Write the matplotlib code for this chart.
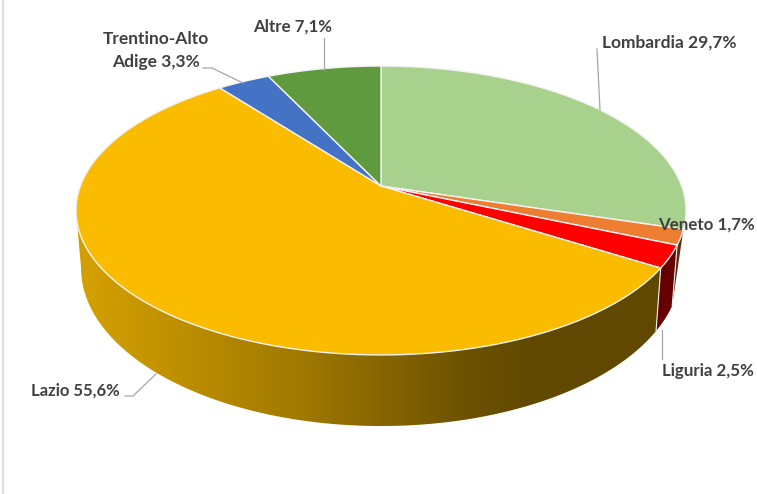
"""3D pie: regional shares, drawn as projected wedges on a pixel-sized axes."""
import numpy as np
import matplotlib
matplotlib.use("Agg")
import matplotlib.pyplot as plt
from matplotlib.patches import Polygon

regions = ["Lombardia", "Veneto", "Liguria", "Lazio", "Trentino-Alto Adige", "Altre"]
values = [29.7, 1.7, 2.5, 55.6, 3.3, 7.1]
top_colors = ["#A9D18E", "#ED7D31", "#FF0000", "#FBBC00", "#4472C4", "#5F9A3F"]

WIDTH, HEIGHT = 757, 494
CX = 381
TOP = dict(ax=300.6, by=140.3, y0=186)     # upper rim projection
BOT = dict(ax=295.6, by=153.5, y0=241.2)   # lower rim projection
P = 0.1695
EDGE = "#F2F2F2"
LABEL_COLOR = "#404040"
LEADER = "#A6A6A6"

plt.rcParams["font.family"] = ["Lato", "DejaVu Sans"]


def rim(theta, ax, by, y0):
    # theta is clockwise from 12 o'clock, perspective squeezes the far side
    u, v = np.sin(theta), np.cos(theta)
    w = 1 + P * v
    return CX + ax * u / w, y0 - by * v / w


def wall_polygon(t, t_low=None):
    xa, ya = rim(t, **TOP)
    xb, yb = rim(t if t_low is None else t_low, **BOT)
    return np.r_[xa, xb[::-1]], np.r_[ya, yb[::-1]]


fig = plt.figure(figsize=(WIDTH / 100, HEIGHT / 100), dpi=100)
ax = fig.add_axes([0, 0, 1, 1])
ax.axis("off")

total = sum(values)
bounds = np.r_[0, np.cumsum(values)] / total * 2 * np.pi

# left frame line
ax.plot([2.5, 2.5], [0, HEIGHT], color="#D9D9D9", lw=1.2, zorder=1)

# side walls: Veneto, Liguria, Lazio (Lombardia's wall is out of sight)
t = np.linspace(bounds[1], bounds[2], 12)
x, y = wall_polygon(t, np.maximum(t, bounds[2]))
ax.fill(x, y, color="#5A2E12", lw=0, zorder=2)
x, y = wall_polygon(np.linspace(bounds[2], bounds[3], 20))
ax.fill(x, y, color="#660000", lw=0, zorder=2)

# Lazio wall gets the horizontal light-to-dark gradient, stops at the left silhouette
left_tangent = 2 * np.pi - np.arccos(-P)
x, y = wall_polygon(np.linspace(bounds[3], left_tangent, 400))
xs = np.arange(0, WIDTH)
shade = np.interp(xs, [85, 300, 470, 530, 660], [0.83, 0.63, 0.42, 0.38, 0.38])
base = np.array(matplotlib.colors.to_rgb("#FFC000"))
grad = (shade[:, None] * base)[None, :, :]
im = ax.imshow(grad, extent=[0, WIDTH, HEIGHT, 0], aspect="auto", zorder=2, interpolation="bilinear")
im.set_clip_path(Polygon(np.c_[x, y], closed=True, transform=ax.transData))
ax.set_xlim(0, WIDTH)
ax.set_ylim(HEIGHT, 0)

# thin light seams on the wall
for b in bounds[2:4]:
    xa, ya = rim(b, **TOP)
    xb, yb = rim(b, **BOT)
    ax.plot([xa, xb], [ya, yb], color=EDGE, lw=0.8, zorder=3)

# top face
for i, col in enumerate(top_colors):
    t = np.linspace(bounds[i], bounds[i + 1], 200)
    x, y = rim(t, **TOP)
    ax.fill(np.r_[CX, x], np.r_[TOP["y0"], y], facecolor=col, edgecolor=EDGE, lw=1.0,
            joinstyle="round", zorder=4)

labels = [
    (602, 43, "left", 12.5, "Lombardia 29,7%"),
    (658, 225, "left", 12.2, "Veneto 1,7%"),
    (662, 371, "left", 12.2, "Liguria 2,5%"),
    (31, 391, "left", 12.0, "Lazio 55,6%"),
    (156, 39, "center", 12.5, "Trentino-Alto"),
    (156, 62, "center", 12.5, "Adige 3,3%"),
    (253, 27, "left", 12.2, "Altre 7,1%"),
]
for x, y, ha, size, s in labels:
    ax.text(x, y, s, ha=ha, va="center", fontsize=size, fontweight="bold", color=LABEL_COLOR, zorder=6)

leaders = [
    ([597, 600], [49, 110]),
    ([662, 662], [330, 359]),
    ([125, 133, 156], [396, 396, 374]),
    ([203, 212, 243], [68, 68, 83]),
    ([324, 324], [38, 70]),
]
for xs, ys in leaders:
    ax.plot(xs, ys, color=LEADER, lw=0.9, zorder=5)

fig.savefig("out.png", dpi=100)
